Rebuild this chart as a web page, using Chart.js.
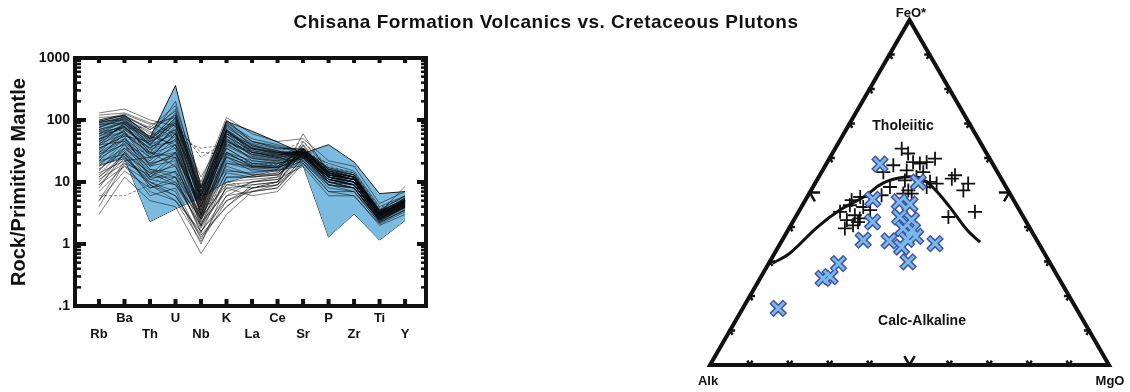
<!DOCTYPE html>
<html>
<head>
<meta charset="utf-8">
<script src="https://cdn.jsdelivr.net/npm/chart.js@4.4.1/dist/chart.umd.min.js"></script>
<style>
  html, body { margin: 0; padding: 0; background: #fff; }
  #wrap { position: relative; width: 1130px; height: 392px; overflow: hidden;
          font-family: "Liberation Sans", Arial, sans-serif; color: #111; }
  canvas { position: absolute; top: 0; }
  #spider { left: 0; }
  #afm { left: 690px; }
  .lbl { position: absolute; font-weight: bold; white-space: nowrap;
         transform: translate(-50%, -50%); line-height: 1; }
</style>
</head>
<body>
<div id="wrap">
  <canvas id="spider" width="440" height="392"></canvas>
  <canvas id="afm" width="440" height="392"></canvas>
  <div class="lbl" style="left:546px;top:21px;font-size:19px;letter-spacing:0.5px">Chisana Formation Volcanics vs. Cretaceous Plutons</div>
  <div class="lbl" style="left:911px;top:12px;font-size:13px">FeO*</div>
  <div class="lbl" style="left:708px;top:380px;font-size:13px">Alk</div>
  <div class="lbl" style="left:1110px;top:380px;font-size:13px">MgO</div>
  <div class="lbl" style="left:903px;top:125px;font-size:14px">Tholeiitic</div>
  <div class="lbl" style="left:922px;top:320px;font-size:14px">Calc-Alkaline</div>
</div>
<script>
// ---------- Spider diagram (normalised to primitive mantle) ----------
const elements = ['Rb', 'Ba', 'Th', 'U', 'Nb', 'K', 'La', 'Ce', 'Sr', 'P', 'Zr', 'Ti', 'Y'];
const yTickValues = [0.1, 1, 10, 100, 1000];
const yTickLabels = ['.1', '1', '10', '100', '1000'];

// Envelope of the Cretaceous plutons
const plutonUpper = [95, 120, 52, 360, 8.2, 95, 66, 44, 29, 40, 21, 6.5, 7];
const plutonLower = [19, 24, 2.3, 3.7, 5.7, 10, 12.7, 15.5, 18.5, 1.3, 3.05, 1.16, 2.4];

// Chisana Formation volcanic samples (Rb ... Y)
const volcanicSamples = [
  [90, 110, 60, 150, 6, 80, 40, 30, 30, 15, 12, 3.5, 5],
  [70, 95, 40, 110, 5, 60, 35, 28, 28, 14, 11, 3, 4.5],
  [50, 80, 30, 80, 4, 50, 28, 25, 30, 13, 10, 3, 4],
  [120, 130, 90, 60, 8, 100, 45, 35, 35, 16, 13, 3.2, 5.5],
  [30, 50, 20, 40, 3, 30, 22, 20, 25, 12, 10, 2.8, 4.2],
  [15, 40, 12, 25, 2, 20, 18, 18, 28, 11, 9, 2.5, 4],
  [8, 30, 8, 12, 1.5, 12, 12, 14, 32, 10, 8, 2.4, 3.8],
  [4, 20, 6, 8, 1.2, 6, 10, 12, 35, 12, 9, 2.6, 4],
  [3, 12, 5, 4, 0.7, 3, 7, 8, 25, 9, 7, 2.2, 3.5],
  [25, 60, 35, 90, 25, 45, 30, 25, 40, 15, 12, 3.5, 5],
  [60, 70, 80, 50, 35, 40, 35, 30, 45, 18, 14, 3.8, 6],
  [40, 90, 25, 60, 3, 70, 30, 25, 20, 9, 8, 2.3, 3.5],
  [80, 100, 50, 200, 7, 90, 50, 40, 30, 20, 15, 4, 6],
  [20, 35, 15, 10, 2.5, 25, 15, 15, 22, 8, 7, 2.5, 4.5],
  [12, 25, 10, 7, 1, 9, 8, 9, 20, 7, 6, 2, 3],
  [100, 120, 70, 120, 8, 60, 40, 32, 25, 11, 10, 3, 5],
  [45, 65, 18, 30, 4, 40, 25, 22, 32, 15, 12, 3.2, 5.5],
  [35, 55, 12, 20, 2, 15, 14, 16, 38, 13, 11, 3, 5],
  [18, 45, 22, 50, 6, 35, 20, 20, 26, 12, 10, 2.8, 4.6],
  [6, 6, 9, 15, 3, 10, 8, 10, 30, 10, 8, 2.5, 4],
  [130, 150, 100, 80, 10, 110, 60, 45, 50, 22, 18, 4.5, 7],
  [55, 85, 45, 130, 5, 55, 30, 26, 27, 13, 11, 3.1, 4.8],
  [25, 60, 28, 40, 3.5, 50, 22, 20, 24, 10, 9, 2.7, 4.2],
  [10, 30, 14, 18, 2.2, 7, 10, 11, 18, 6, 6, 2.1, 3.3],
  [65, 75, 35, 70, 4.5, 45, 28, 24, 33, 16, 12, 3.4, 5.2],
  [40, 45, 20, 25, 2.5, 20, 16, 15, 29, 12, 10, 2.9, 4.6],
  [22, 28, 9, 6, 1.4, 4, 9, 10, 60, 14, 11, 3.2, 5.5],
  [85, 90, 55, 40, 6, 85, 38, 32, 22, 10, 9, 2.6, 4.4],
  [14, 22, 25, 60, 8, 30, 18, 17, 24, 11, 9, 2.6, 4.1],
  [30, 70, 40, 100, 12, 65, 32, 27, 31, 14, 11, 3, 4.9],
  [75, 105, 65, 35, 4, 70, 35, 30, 27, 12, 10, 2.9, 4.5],
  [9, 18, 7, 5, 1.1, 5, 7, 9, 45, 16, 13, 3.5, 6],
  [50, 65, 28, 55, 2.8, 35, 20, 18, 35, 14, 11, 3.1, 5],
  [28, 40, 16, 12, 3, 18, 13, 13, 30, 9, 8, 2.4, 3.9],
  [110, 115, 75, 170, 9, 95, 45, 38, 28, 17, 14, 3.6, 5.8],
  [16, 35, 30, 75, 30, 28, 20, 19, 36, 14, 12, 3.3, 5.3],
  [5, 15, 8, 10, 1.8, 8, 6, 7, 20, 7, 7, 2.2, 3.6],
  [60, 80, 30, 25, 5, 25, 18, 17, 26, 12, 10, 2.8, 4.7],
  [35, 55, 45, 90, 7, 55, 26, 23, 29, 15, 12, 3.2, 8.5],
  [95, 100, 40, 60, 3, 45, 30, 27, 33, 13, 11, 3, 4.8],
  [7, 18, 10, 6, 1.3, 4, 8, 10, 30, 11, 9, 2.7, 4.4],
  [12, 28, 14, 9, 2, 8, 9, 10, 26, 10, 8, 2.5, 4.1],
  [18, 26, 9, 5, 1.6, 6, 7, 8, 22, 9, 8, 2.3, 3.9],
  [5, 22, 11, 15, 2.5, 10, 11, 12, 34, 13, 11, 3.1, 5.1],
  [13, 35, 18, 22, 2.8, 14, 12, 13, 28, 12, 10, 2.9, 4.7],
  [22, 50, 25, 30, 3.2, 22, 17, 16, 30, 13, 10, 3, 4.9],
  [60, 95, 55, 95, 5.5, 70, 38, 31, 31, 15, 12, 3.3, 5.1],
  [75, 115, 70, 140, 6.5, 85, 45, 36, 33, 17, 13, 3.4, 5.3],
  [45, 85, 50, 120, 6, 65, 36, 30, 30, 14, 11, 3.1, 4.8],
  [85, 105, 45, 70, 4, 55, 32, 28, 28, 12, 10, 2.8, 4.4],
  [38, 70, 35, 65, 4.5, 48, 27, 24, 31, 14, 11, 3, 4.7],
  [28, 48, 16, 14, 1.9, 12, 12, 13, 27, 11, 9, 2.6, 4.2],
  [9, 24, 12, 12, 1.6, 5, 8, 9, 24, 10, 8, 2.4, 3.9],
  [70, 88, 38, 45, 3.8, 38, 24, 21, 29, 13, 11, 2.9, 4.6],
  [55, 75, 42, 85, 5, 60, 30, 26, 32, 14, 12, 3.2, 5],
  [100, 125, 85, 110, 7, 75, 42, 34, 34, 16, 13, 3.3, 5.2],
  [33, 62, 24, 35, 2.3, 28, 19, 18, 33, 15, 12, 3.1, 4.9],
  [16, 32, 11, 9, 2.7, 9, 10, 11, 40, 12, 10, 2.8, 4.5],
  [48, 78, 33, 48, 3.4, 42, 24, 22, 27, 12, 10, 2.7, 4.3],
  [24, 42, 19, 28, 3.5, 26, 17, 17, 35, 13, 11, 3, 5],
  [66, 92, 48, 105, 5.8, 68, 34, 29, 29, 13, 11, 3, 4.7],
  [11, 20, 13, 30, 4.5, 16, 13, 14, 28, 11, 9, 2.6, 4.3],
  [42, 58, 30, 18, 2.6, 30, 18, 17, 26, 11, 9, 2.5, 4],
  [90, 110, 50, 90, 4.8, 65, 34, 29, 30, 14, 12, 3.1, 4.9]
];

// ---------- AFM ternary: [Alk, FeO*, MgO] in percent ----------
const tholeiiticBoundaryAFM = [
  [69.5, 29.5, 1.0], [63.8, 32.4, 3.8], [53.2, 39.9, 6.9], [45.0, 44.9, 10.1],
  [37.3, 48.6, 14.1], [30.3, 52.7, 17.0], [24.4, 54.4, 21.2], [20.3, 54.1, 25.6],
  [18.4, 51.5, 30.1], [17.0, 45.7, 37.3], [16.0, 39.1, 44.9], [14.5, 35.6, 49.9]
];
const volcanicAFM = [
  [20.6, 62.7, 16.7], [19.7, 61.3, 19.0], [25.1, 57.9, 17.0], [28.6, 55.9, 15.5],
  [19.7, 58.8, 21.5], [18.2, 58.4, 23.4], [16.3, 58.8, 24.9], [13.7, 59.8, 26.5],
  [22.5, 56.4, 21.1], [18.6, 55.9, 25.5], [21.0, 54.5, 24.5], [24.4, 53.5, 22.1],
  [18.3, 53.1, 28.6], [16.9, 52.6, 30.5], [19.9, 51.6, 28.5], [11.1, 55.0, 33.9],
  [12.4, 54.0, 33.6], [9.0, 52.6, 38.4], [11.2, 50.6, 38.2], [11.4, 44.4, 44.2],
  [18.8, 42.9, 38.3], [26.7, 49.7, 23.6], [25.0, 50.6, 24.4], [24.6, 49.7, 25.7],
  [29.1, 51.6, 19.3], [32.4, 49.2, 18.4], [38.0, 48.7, 13.3], [40.6, 47.8, 11.6],
  [41.8, 46.3, 11.9], [38.7, 45.8, 15.5], [37.4, 44.9, 17.7], [45.2, 44.4, 10.4],
  [42.0, 43.4, 14.6], [41.2, 42.5, 16.3], [44.7, 42.0, 13.3], [46.4, 39.6, 14.0],
  [43.9, 40.5, 15.6], [42.2, 41.4, 16.4]
];
const plutonAFM = [
  [28.3, 58.2, 13.5], [21.3, 53.0, 25.7], [35.2, 48.0, 16.8], [28.9, 47.3, 23.8],
  [26.6, 46.6, 26.8], [31.0, 42.9, 26.1], [28.5, 42.0, 29.5], [38.5, 41.5, 20.0],
  [29.7, 39.1, 31.2], [43.5, 36.2, 20.3], [37.1, 36.0, 26.9], [32.5, 36.4, 31.1],
  [29.8, 37.3, 32.9], [34.9, 34.2, 30.9], [26.0, 35.2, 38.8], [35.4, 29.9, 34.7],
  [53.1, 29.4, 17.5], [57.1, 25.6, 17.3], [59.1, 25.1, 15.8], [74.7, 16.4, 8.9],
  [31.8, 39.6, 28.6]
];
const afmTickPercents = [10, 20, 30, 40, 50, 60, 70, 80, 90];

Chart.defaults.font.family = '"Liberation Sans", Arial, sans-serif';
Chart.defaults.color = '#111';
Chart.defaults.animation = false;

// ---------- spider chart ----------
const toPoints = arr => arr.map((v, i) => ({ x: i, y: v }));
const dashedRows = new Set([9, 10, 19, 35]);

const spiderDatasets = volcanicSamples.map((row, k) => ({
  data: toPoints(row),
  borderColor: 'rgba(10,10,10,0.7)',
  borderWidth: 0.75,
  borderDash: dashedRows.has(k) ? [3, 2] : [],
  pointRadius: 0,
  fill: false,
  order: 0
}));
spiderDatasets.push({
  data: toPoints(plutonUpper),
  borderColor: '#1a1a1a', borderWidth: 1, pointRadius: 0,
  backgroundColor: '#7bbbe0', fill: '+1', order: 1
});
spiderDatasets.push({
  data: toPoints(plutonLower),
  borderColor: '#1a1a1a', borderWidth: 1, pointRadius: 0,
  fill: false, order: 1
});

// inward tick marks and the heavy frame around the plot area
const spiderFrame = {
  id: 'spiderFrame',
  afterDatasetsDraw(chart) {
    const { ctx, chartArea: a, scales } = chart;
    const xs = scales.x, ys = scales.y;
    ctx.save();
    ctx.fillStyle = '#111';
    elements.forEach((_, i) => {
      const px = xs.getPixelForValue(i);
      ctx.fillRect(px - 2, a.bottom - 7, 4, 7);
      ctx.fillRect(px - 2, a.top, 4, 5);
    });
    for (let d = -1; d < 3; d++) {
      for (let m = 1; m <= 9; m++) {
        const py = ys.getPixelForValue(m * Math.pow(10, d));
        const major = m === 1;
        const h = major ? 4 : 2.5;
        ctx.fillRect(a.left, py - h / 2, major ? 11 : 6, h);
        ctx.fillRect(a.right - (major ? 9 : 5), py - h / 2, major ? 9 : 5, h);
      }
    }
    ctx.strokeStyle = '#111';
    ctx.lineWidth = 4;
    ctx.strokeRect(a.left, a.top, a.right - a.left, a.bottom - a.top);
    ctx.restore();
  }
};

new Chart(document.getElementById('spider'), {
  type: 'line',
  data: { datasets: spiderDatasets },
  plugins: [spiderFrame],
  options: {
    responsive: false,
    devicePixelRatio: 1,
    layout: { padding: { top: 58, right: 14, left: 0, bottom: 0 } },
    plugins: { legend: { display: false }, tooltip: { enabled: false } },
    scales: {
      x: {
        type: 'linear', min: -0.94, max: 12.82,
        grid: { display: false, drawTicks: false },
        border: { display: false },
        afterBuildTicks: s => { s.ticks = elements.map((_, i) => ({ value: i })); },
        afterFit: s => { s.height = 86; },
        ticks: {
          autoSkip: false, maxRotation: 0, minRotation: 0, padding: 5,
          font: { size: 13, weight: 'bold' },
          callback: v => (v % 2 === 1 ? [elements[v], ''] : ['', elements[v]])
        }
      },
      y: {
        type: 'logarithmic', min: 0.1, max: 1000,
        grid: { display: false, drawTicks: false },
        border: { display: false },
        afterBuildTicks: s => { s.ticks = yTickValues.map(v => ({ value: v })); },
        afterFit: s => { s.width = 75; },
        ticks: {
          padding: 5,
          font: { size: 14, weight: 'bold' },
          callback: v => {
            const i = yTickValues.findIndex(t => Math.abs(t - v) / t < 1e-6);
            return i >= 0 ? yTickLabels[i] : '';
          }
        },
        title: {
          display: true, text: 'Rock/Primitive Mantle',
          font: { size: 20, weight: 'bold' },
          padding: { top: 7, bottom: 0 }
        }
      }
    }
  }
});

// ---------- AFM ternary chart ----------
const H = Math.sqrt(3) / 2;
const afmToXY = ([alk, feo, mgo]) => {
  const s = alk + feo + mgo;
  const f = feo / s * 100, m = mgo / s * 100;
  return { x: m + f / 2, y: f * H };
};

const triangle = [{ x: 0, y: 0 }, { x: 50, y: 100 * H }, { x: 100, y: 0 }, { x: 0, y: 0 }, { x: 50, y: 100 * H }];

// tick marks along each side: small chevrons following the two grid directions
const tickSegments = [];
const sides = [
  { p: t => ({ x: t, y: 0 }), d1: [-0.5, H], d2: [0.5, H] },
  { p: t => ({ x: t / 2, y: t * H }), d1: [1, 0], d2: [0.5, -H] },
  { p: t => ({ x: 100 - t / 2, y: t * H }), d1: [-1, 0], d2: [-0.5, -H] }
];
sides.forEach(side => {
  afmTickPercents.forEach(t => {
    const c = side.p(t);
    const len = t === 50 ? 2.6 : 1.3;
    tickSegments.push({ x: c.x + side.d1[0] * len, y: c.y + side.d1[1] * len });
    tickSegments.push(c);
    tickSegments.push({ x: c.x + side.d2[0] * len, y: c.y + side.d2[1] * len });
    tickSegments.push({ x: c.x, y: null });
  });
});

const plutonPts = plutonAFM.map(afmToXY);

new Chart(document.getElementById('afm'), {
  type: 'scatter',
  data: {
    datasets: [
      { data: plutonPts, pointStyle: 'crossRot', pointRadius: 8.3, borderWidth: 2.8,
        borderColor: '#78bbe8', backgroundColor: '#78bbe8', clip: false, order: 0 },
      { data: plutonPts, pointStyle: 'crossRot', pointRadius: 9.6, borderWidth: 6,
        borderColor: '#4354ab', backgroundColor: '#4354ab', clip: false, order: 1 },
      { data: tholeiiticBoundaryAFM.map(afmToXY), showLine: true, tension: 0.4,
        borderColor: '#111', borderWidth: 3, pointRadius: 0, clip: false, order: 2 },
      { data: volcanicAFM.map(afmToXY), pointStyle: 'cross', pointRadius: 7, borderWidth: 1.8,
        borderColor: '#111', backgroundColor: '#111', clip: false, order: 3 },
      { data: tickSegments, showLine: true, spanGaps: false, borderColor: '#111', borderWidth: 2.5,
        pointRadius: 0, clip: false, order: 4 },
      { data: triangle, showLine: true, borderColor: '#111', borderWidth: 4, borderJoinStyle: 'miter',
        pointRadius: 0, clip: false, order: 5 }
    ]
  },
  options: {
    responsive: false,
    devicePixelRatio: 1,
    layout: { padding: { left: 20, right: 21, top: 20, bottom: 27 } },
    plugins: { legend: { display: false }, tooltip: { enabled: false } },
    scales: {
      x: { type: 'linear', min: 0, max: 100, display: false },
      y: { type: 'linear', min: 0, max: 100 * H, display: false }
    }
  }
});
</script>
</body>
</html>
